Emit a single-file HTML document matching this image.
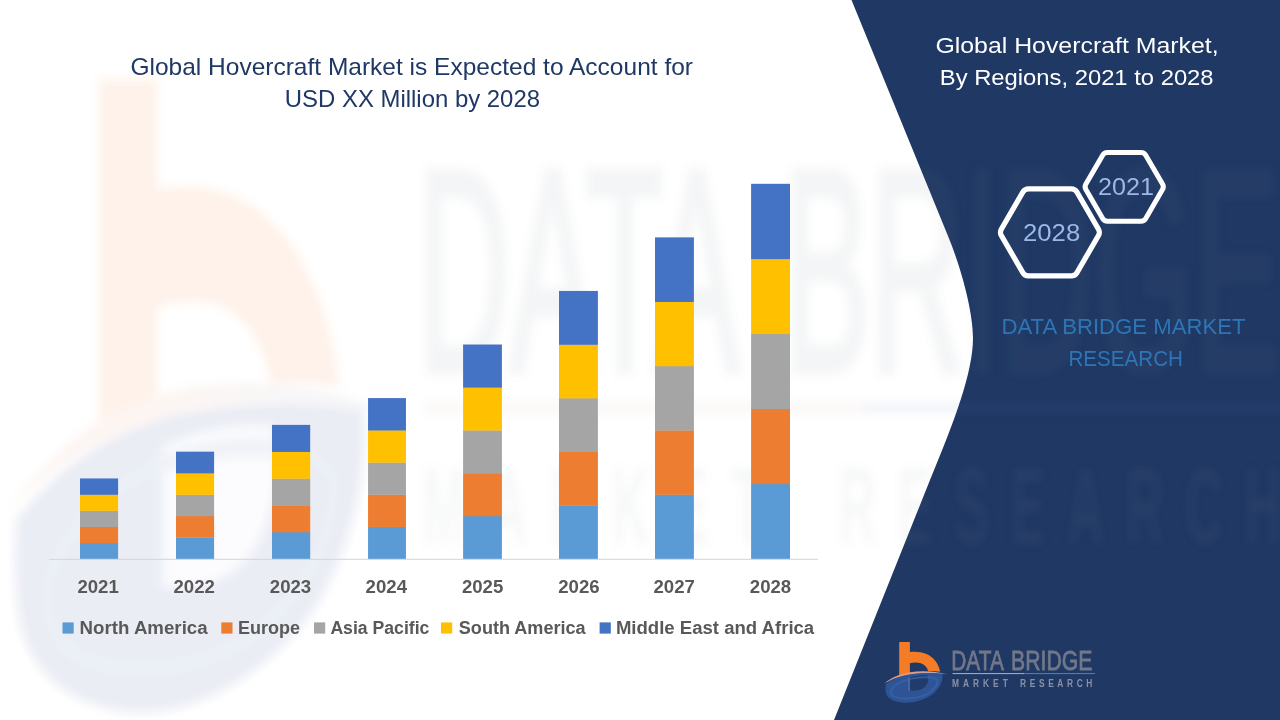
<!DOCTYPE html>
<html lang="en">
<head>
<meta charset="utf-8">
<title>Global Hovercraft Market</title>
<style>
html,body{margin:0;padding:0;background:#ffffff;}
body{width:1280px;height:720px;overflow:hidden;font-family:"Liberation Sans",sans-serif;}
svg{display:block;}
text{font-family:"Liberation Sans",sans-serif;}
</style>
</head>
<body>
<svg width="1280" height="720" viewBox="0 0 1280 720">
<defs>
<path id="logob" d="M14.2,2.1 L24.9,2.1 L24.9,11.9 C30,11.3 36,11.6 41.5,14 C48.5,17.2 53.6,23.5 55.2,31.6 C50,31.2 46,31.2 43.2,31.3 C42.3,27.6 39.6,24.6 35.8,23.3 C32.5,22.2 28.5,22.3 24.9,23.2 L24.9,32.7 C21,33.4 17.5,34.2 14.2,35.2 Z" fill="#F47C26"/>
<path id="wmb" d="M14.2,2.1 L23.8,2.1 L23.8,12.6 C29,12 35,12.3 40.3,14.6 C47,17.6 52,23.6 53.6,31.6 C49,31.2 45,31.2 42.2,31.3 C41.4,28 38.8,25.4 35.2,24.2 C32,23.2 27.5,23.2 23.8,24 L23.8,32.8 C20.5,33.5 17.2,34.3 14.2,35.2 Z" fill="#F47C26"/>
<g id="logoicon">
<path fill-rule="evenodd" d="M0.8,44.2 C7,39.4 16,35.8 25.5,34.3 C36,32.8 48,32.7 57.4,33.8 C58.6,41 54,50 46.5,55 C38,60.5 28,63 20,62.7 C10,62.3 2.2,59 1,53 C0.4,50 0.4,47 0.8,44.2 Z M24.8,37.2 C31,35.6 38,35 42.6,35.4 C44,39 43,44 39.5,47.2 C35.5,50.6 29.5,51 24.8,50.6 Z" fill="#2F5496"/>
<path d="M6,50 C10,43 22,38.5 34,37.5 C44,36.8 51,38 52.5,40.5 C53,46 47,52 39,55.5 C30,59 17,59.5 10,57 C6.5,55.5 5,53 6,50 Z" fill="none" stroke="#3B64AB" stroke-width="1.8" opacity="0.75"/>
<path d="M24.8,37.2 C31,35.6 38,35 42.6,35.4 C44,39 43,44 39.5,47.2 C35.5,50.6 29.5,51 24.8,50.6 Z" fill="#30569A" opacity="0.12"/>
<path d="M23.4,37.4 L24.8,37.1 L24.8,51 L23.4,51 Z" fill="#5477B8" opacity="0.8"/>
<path d="M-0.4,43.4 C6,37.6 15,33.8 25,32.2 C36,30.5 50,30.9 62.2,34.3 C50,32.6 36.5,32.6 25.5,34.2 C15.5,35.8 6.5,39.2 -0.4,43.4 Z" fill="url(#swg)"/>
</g>
<linearGradient id="swg" x1="0" y1="0" x2="1" y2="0">
<stop offset="0" stop-color="#D9A58E"/><stop offset="0.35" stop-color="#E59A72"/><stop offset="0.75" stop-color="#B9A9B4"/><stop offset="1" stop-color="#8E9CC4"/>
</linearGradient>
<g id="logotext">
<g font-size="27.6" fill="#727889" stroke="#727889" stroke-width="0.8">
<text x="66.3" y="30.0" textLength="52.5" lengthAdjust="spacingAndGlyphs">DATA</text>
<text x="126.1" y="30.0" textLength="81.2" lengthAdjust="spacingAndGlyphs">BRIDGE</text>
</g>
<rect x="67.5" y="33" width="71.5" height="1.1" fill="#C69C8F"/>
<rect x="139" y="33" width="71" height="1.1" fill="#5676BC"/>
<g font-size="10.5" font-weight="bold" fill="#8B91A4" transform="scale(0.8,1)">
<text x="83.9" y="46.6" textLength="69.6" lengthAdjust="spacing">MARKET</text>
<text x="168.9" y="46.6" textLength="90.4" lengthAdjust="spacing">RESEARCH</text>
</g>
</g>
<filter id="wmblur" x="-5%" y="-5%" width="110%" height="110%"><feGaussianBlur stdDeviation="4"/></filter>
</defs>
<rect x="0" y="0" width="1280" height="720" fill="#ffffff"/>
<!--WATERMARK-WHITE-->
<!-- navy panel -->
<path id="panel" d="M851.5,0 L948,236 C960,265 973,310 973,338 C973,372 955,420 930,480 L834,720 L1280,720 L1280,0 Z" fill="#1F3864"/>
<g filter="url(#wmblur)"><g transform="translate(12,57.1) scale(6.12,10.45)"><g opacity="0.10"><use href="#wmb"/><use href="#logoicon"/></g><g opacity="0.075"><use href="#logotext"/></g></g></g>
<!-- chart -->
<g>
<rect x="80.00" y="542.73" width="38.10" height="16.37" fill="#5B9BD5"/>
<rect x="80.00" y="526.66" width="38.10" height="16.37" fill="#ED7D31"/>
<rect x="80.00" y="510.59" width="38.10" height="16.37" fill="#A5A5A5"/>
<rect x="80.00" y="494.51" width="38.10" height="16.37" fill="#FFC000"/>
<rect x="80.00" y="478.44" width="38.10" height="16.37" fill="#4472C4"/>
<rect x="176.00" y="537.37" width="38.10" height="21.73" fill="#5B9BD5"/>
<rect x="176.00" y="515.94" width="38.10" height="21.73" fill="#ED7D31"/>
<rect x="176.00" y="494.51" width="38.10" height="21.73" fill="#A5A5A5"/>
<rect x="176.00" y="473.09" width="38.10" height="21.73" fill="#FFC000"/>
<rect x="176.00" y="451.66" width="38.10" height="21.73" fill="#4472C4"/>
<rect x="272.00" y="532.01" width="38.20" height="27.09" fill="#5B9BD5"/>
<rect x="272.00" y="505.23" width="38.20" height="27.09" fill="#ED7D31"/>
<rect x="272.00" y="478.44" width="38.20" height="27.09" fill="#A5A5A5"/>
<rect x="272.00" y="451.66" width="38.20" height="27.09" fill="#FFC000"/>
<rect x="272.00" y="424.87" width="38.20" height="27.09" fill="#4472C4"/>
<rect x="368.05" y="526.66" width="37.90" height="32.44" fill="#5B9BD5"/>
<rect x="368.05" y="494.51" width="37.90" height="32.44" fill="#ED7D31"/>
<rect x="368.05" y="462.37" width="37.90" height="32.44" fill="#A5A5A5"/>
<rect x="368.05" y="430.23" width="37.90" height="32.44" fill="#FFC000"/>
<rect x="368.05" y="398.09" width="37.90" height="32.44" fill="#4472C4"/>
<rect x="463.10" y="515.94" width="38.80" height="43.16" fill="#5B9BD5"/>
<rect x="463.10" y="473.09" width="38.80" height="43.16" fill="#ED7D31"/>
<rect x="463.10" y="430.23" width="38.80" height="43.16" fill="#A5A5A5"/>
<rect x="463.10" y="387.37" width="38.80" height="43.16" fill="#FFC000"/>
<rect x="463.10" y="344.51" width="38.80" height="43.16" fill="#4472C4"/>
<rect x="559.00" y="505.23" width="38.90" height="53.87" fill="#5B9BD5"/>
<rect x="559.00" y="451.66" width="38.90" height="53.87" fill="#ED7D31"/>
<rect x="559.00" y="398.09" width="38.90" height="53.87" fill="#A5A5A5"/>
<rect x="559.00" y="344.51" width="38.90" height="53.87" fill="#FFC000"/>
<rect x="559.00" y="290.94" width="38.90" height="53.87" fill="#4472C4"/>
<rect x="655.00" y="494.51" width="38.90" height="64.59" fill="#5B9BD5"/>
<rect x="655.00" y="430.23" width="38.90" height="64.59" fill="#ED7D31"/>
<rect x="655.00" y="365.94" width="38.90" height="64.59" fill="#A5A5A5"/>
<rect x="655.00" y="301.66" width="38.90" height="64.59" fill="#FFC000"/>
<rect x="655.00" y="237.37" width="38.90" height="64.59" fill="#4472C4"/>
<rect x="751.10" y="483.80" width="38.90" height="75.30" fill="#5B9BD5"/>
<rect x="751.10" y="408.80" width="38.90" height="75.30" fill="#ED7D31"/>
<rect x="751.10" y="333.80" width="38.90" height="75.30" fill="#A5A5A5"/>
<rect x="751.10" y="258.80" width="38.90" height="75.30" fill="#FFC000"/>
<rect x="751.10" y="183.80" width="38.90" height="75.30" fill="#4472C4"/>
</g>
<rect x="49.5" y="558.8" width="768.5" height="1" fill="#D4D4D4"/>
<g font-weight="bold" font-size="17.5" fill="#595959">
<text x="98.1" y="593.1" text-anchor="middle" textLength="41.4" lengthAdjust="spacingAndGlyphs">2021</text>
<text x="194.2" y="593.1" text-anchor="middle" textLength="41.4" lengthAdjust="spacingAndGlyphs">2022</text>
<text x="290.5" y="593.1" text-anchor="middle" textLength="41.4" lengthAdjust="spacingAndGlyphs">2023</text>
<text x="386.3" y="593.1" text-anchor="middle" textLength="41.4" lengthAdjust="spacingAndGlyphs">2024</text>
<text x="482.6" y="593.1" text-anchor="middle" textLength="41.4" lengthAdjust="spacingAndGlyphs">2025</text>
<text x="578.9" y="593.1" text-anchor="middle" textLength="41.4" lengthAdjust="spacingAndGlyphs">2026</text>
<text x="674.2" y="593.1" text-anchor="middle" textLength="41.4" lengthAdjust="spacingAndGlyphs">2027</text>
<text x="770.5" y="593.1" text-anchor="middle" textLength="41.4" lengthAdjust="spacingAndGlyphs">2028</text>
</g>
<!-- legend -->
<g>
<rect x="62.5" y="622.4" width="11.2" height="11.2" fill="#5B9BD5"/>
<rect x="221.3" y="622.4" width="11.2" height="11.2" fill="#ED7D31"/>
<rect x="314" y="622.4" width="11.2" height="11.2" fill="#A5A5A5"/>
<rect x="441" y="622.4" width="11.2" height="11.2" fill="#FFC000"/>
<rect x="599.6" y="622.4" width="11.2" height="11.2" fill="#4472C4"/>
</g>
<g font-weight="bold" font-size="17.5" fill="#595959">
<text x="79.6" y="633.8" textLength="128" lengthAdjust="spacingAndGlyphs">North America</text>
<text x="238" y="633.8" textLength="62" lengthAdjust="spacingAndGlyphs">Europe</text>
<text x="330.4" y="633.8" textLength="99" lengthAdjust="spacingAndGlyphs">Asia Pacific</text>
<text x="458.8" y="633.8" textLength="126.8" lengthAdjust="spacingAndGlyphs">South America</text>
<text x="615.9" y="633.8" textLength="198.3" lengthAdjust="spacingAndGlyphs">Middle East and Africa</text>
</g>
<!-- left title -->
<g font-size="23.2" fill="#1F3864">
<text x="130.4" y="74.9" textLength="562.6" lengthAdjust="spacingAndGlyphs">Global Hovercraft Market is Expected to Account for</text>
<text x="284.8" y="106.5" textLength="255.2" lengthAdjust="spacingAndGlyphs">USD XX Million by 2028</text>
</g>
<!-- right title -->
<g font-size="22.7" fill="#ffffff">
<text x="935.4" y="52.8" textLength="283.2" lengthAdjust="spacingAndGlyphs">Global Hovercraft Market,</text>
<text x="939.8" y="84.9" textLength="273.8" lengthAdjust="spacingAndGlyphs">By Regions, 2021 to 2028</text>
</g>
<!-- hexagons -->
<g fill="none" stroke="#ffffff" stroke-linejoin="round">
<path d="M1001.39,235.66 A6.5,6.5 0 0 1 1001.39,229.14 L1022.82,192.14 A6.5,6.5 0 0 1 1028.45,188.90 L1071.35,188.90 A6.5,6.5 0 0 1 1076.98,192.14 L1098.41,229.14 A6.5,6.5 0 0 1 1098.41,235.66 L1076.98,272.66 A6.5,6.5 0 0 1 1071.35,275.90 L1028.45,275.90 A6.5,6.5 0 0 1 1022.82,272.66 Z" stroke-width="5.2"/>
<path d="M1085.90,189.56 A5.5,5.5 0 0 1 1085.90,184.04 L1102.66,155.14 A5.5,5.5 0 0 1 1107.42,152.40 L1140.98,152.40 A5.5,5.5 0 0 1 1145.74,155.14 L1162.50,184.04 A5.5,5.5 0 0 1 1162.50,189.56 L1145.74,218.46 A5.5,5.5 0 0 1 1140.98,221.20 L1107.42,221.20 A5.5,5.5 0 0 1 1102.66,218.46 Z" stroke-width="5"/>
</g>
<g font-size="24.6" fill="#9DB8E6">
<text x="1023" y="241" textLength="57.2" lengthAdjust="spacingAndGlyphs">2028</text>
<text x="1098" y="195.2" textLength="56" lengthAdjust="spacingAndGlyphs">2021</text>
</g>
<!-- DBMR text -->
<g font-size="22.9" fill="#2E75B6">
<text x="1001.4" y="333.6" textLength="244.2" lengthAdjust="spacingAndGlyphs">DATA BRIDGE MARKET</text>
<text x="1068.4" y="365.7" textLength="114.6" lengthAdjust="spacingAndGlyphs">RESEARCH</text>
</g>
<g transform="translate(885,640)"><use href="#logob"/><use href="#logoicon"/><use href="#logotext"/></g>
</svg>
</body>
</html>
